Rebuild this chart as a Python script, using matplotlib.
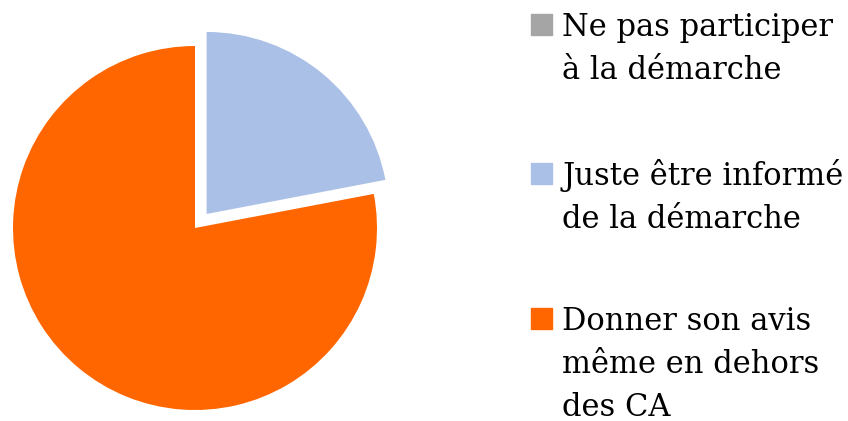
import matplotlib.pyplot as plt
from matplotlib.patches import Rectangle

labels = ["Ne pas participer\nà la démarche",
          "Juste être informé\nde la démarche",
          "Donner son avis\nmême en dehors\ndes CA"]
values = [0, 22, 78]
colors = ["#A5A5A5", "#ABC0E6", "#FF6600"]
explode = [0, 0.1, 0]

fig = plt.figure(figsize=(8.48, 4.21), dpi=100)
ax = fig.add_axes([13 / 848, 11 / 421, 364 / 848, 364 / 421])
wedges, _ = ax.pie(values, colors=colors, explode=explode, startangle=90,
                   counterclock=False, radius=1)
for w in wedges:
    w.set_clip_on(False)
ax.set_xlim(-1, 1)
ax.set_ylim(-1, 1)
ax.set_aspect("equal")
ax.axis("off")

# legend drawn by hand so the square sits on the first line
baselines = [36, 185, 330]
line_step = 43
for lab, col, y in zip(labels, colors, baselines):
    fig.patches.append(Rectangle((531 / 848, 1 - (y - 1) / 421), 21 / 848, 21 / 421,
                                 transform=fig.transFigure, color=col))
    for i, line in enumerate(lab.split("\n")):
        fig.text(562 / 848, 1 - (y + i * line_step) / 421, line,
                 family="DejaVu Serif", fontsize=22, va="baseline", ha="left")

plt.savefig("out.png", dpi=100)
